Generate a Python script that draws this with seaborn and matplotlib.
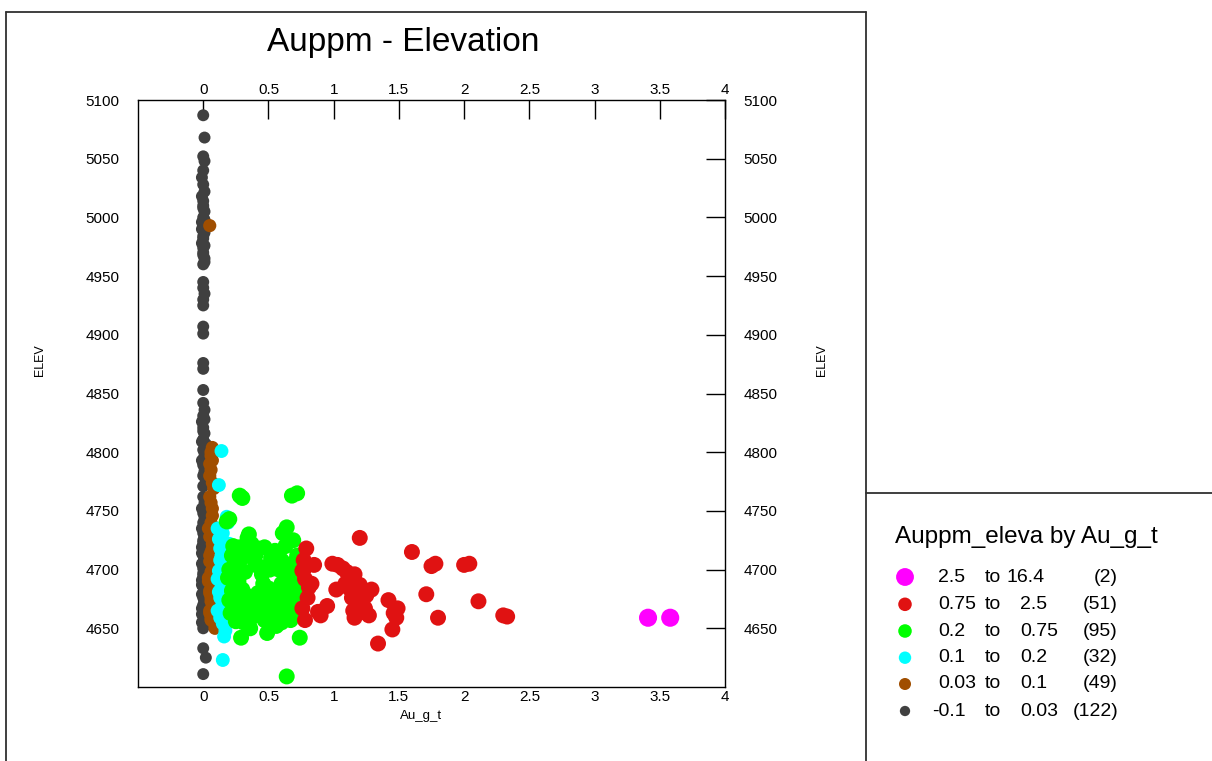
import matplotlib
matplotlib.use("Agg")
import matplotlib.pyplot as plt
import seaborn as sns
import pandas as pd
from matplotlib.lines import Line2D

# ---- Au_g_t vs elevation samples, grouped by grade class ----
grey_pts = [
    (0.00, 5087), (0.01, 5068), (0.00, 5052), (0.01, 5048), (0.00, 5040), (-0.01, 5034),
    (0.00, 5028), (-0.01, 5018), (0.00, 5014), (0.00, 5010), (0.01, 5005), (0.00, 5000),
    (-0.01, 4996), (0.00, 4992), (0.01, 4987), (0.00, 4982), (-0.01, 4978), (0.00, 4974),
    (0.00, 4970), (0.01, 4965), (0.00, 4960), (0.00, 4945), (0.00, 4940), (0.01, 4935),
    (0.00, 4930), (0.00, 4925), (0.00, 4907), (0.00, 4901), (0.00, 4876), (0.00, 4871),
    (0.00, 4853),
    (0.00, 4842), (0.01, 4836), (0.00, 4831), (-0.01, 4826), (0.00, 4821), (0.01, 4816),
    (0.00, 4811), (0.02, 4807), (0.00, 4802), (0.01, 4797), (-0.01, 4793), (0.00, 4789),
    (0.01, 4784), (0.00, 4780), (0.02, 4775), (0.00, 4771),
    (0.00, 4762), (0.01, 4757), (-0.01, 4752), (0.00, 4748), (0.01, 4744), (0.00, 4740),
    (-0.01, 4735), (0.00, 4731), (0.01, 4727), (0.00, 4723), (-0.01, 4719), (0.02, 4716),
    (0.00, 4712), (0.01, 4708), (-0.01, 4705), (0.00, 4701), (0.02, 4698), (0.00, 4695),
    (-0.01, 4691), (0.01, 4688), (0.00, 4685), (0.02, 4682), (-0.01, 4679), (0.00, 4676),
    (0.01, 4673), (0.00, 4670), (-0.01, 4667), (0.02, 4664), (0.00, 4661), (0.01, 4658),
    (-0.01, 4655), (0.00, 4650), (0.00, 4633), (0.02, 4625), (0.00, 4611),
    (0.01, 5022), (0.00, 5008), (0.01, 4998), (-0.01, 4990), (0.00, 4984), (0.01, 4976),
    (0.00, 4968), (0.01, 4962),
    (0.01, 4828), (0.00, 4818), (-0.01, 4809), (0.01, 4800), (0.00, 4791), (0.01, 4782),
    (0.02, 4733), (0.01, 4729), (0.00, 4725), (-0.01, 4714), (0.01, 4710), (0.02, 4703),
    (0.00, 4697), (0.01, 4693), (-0.01, 4687), (0.02, 4684), (0.00, 4680), (0.01, 4677),
    (0.02, 4671), (0.00, 4668), (0.01, 4665), (-0.01, 4662), (0.02, 4659), (0.00, 4656),
    (0.01, 4653), (0.00, 4720), (0.01, 4718), (0.00, 4706), (0.01, 4700), (0.00, 4689),
    (0.01, 4674), (0.00, 4663),
]

brown_pts = [
    (0.05, 4993), (0.07, 4804), (0.06, 4797), (0.05, 4790), (0.06, 4785), (0.07, 4774),
    (0.08, 4769), (0.05, 4762), (0.07, 4746), (0.06, 4740), (0.08, 4733), (0.05, 4728),
    (0.07, 4722), (0.06, 4715), (0.08, 4710), (0.05, 4707), (0.07, 4700), (0.06, 4696),
    (0.04, 4693), (0.08, 4688), (0.07, 4684), (0.05, 4680), (0.06, 4676), (0.08, 4671),
    (0.07, 4667), (0.05, 4663), (0.06, 4659), (0.08, 4655), (0.09, 4650),
    (0.06, 4800), (0.07, 4793), (0.05, 4780), (0.06, 4757), (0.07, 4752), (0.04, 4735),
    (0.06, 4730), (0.07, 4718), (0.05, 4712), (0.08, 4703), (0.06, 4698), (0.04, 4690),
    (0.07, 4686), (0.05, 4682), (0.09, 4678), (0.06, 4673), (0.07, 4669), (0.05, 4665),
    (0.08, 4661), (0.06, 4657),
]

cyan_pts = [
    (0.14, 4801), (0.12, 4772), (0.18, 4745), (0.19, 4740), (0.15, 4731), (0.20, 4722),
    (0.17, 4716), (0.13, 4708), (0.16, 4703), (0.12, 4699), (0.15, 4694), (0.17, 4690),
    (0.14, 4685), (0.16, 4680), (0.13, 4676), (0.15, 4672), (0.14, 4668), (0.16, 4663),
    (0.13, 4659), (0.15, 4654), (0.17, 4648), (0.16, 4643), (0.15, 4623), (0.11, 4735),
    (0.12, 4726), (0.18, 4712), (0.11, 4692), (0.12, 4681), (0.18, 4670), (0.11, 4665),
    (0.14, 4712), (0.13, 4718),
]

green_pts = [
    (0.28, 4763), (0.30, 4761), (0.68, 4763), (0.72, 4765), (0.20, 4743), (0.18, 4741),
    (0.35, 4730), (0.34, 4727), (0.61, 4731), (0.64, 4736), (0.29, 4642), (0.49, 4646),
    (0.74, 4642), (0.64, 4609), (0.47, 4719), (0.28, 4719), (0.33, 4715),
    (0.22, 4712), (0.30, 4710), (0.40, 4712), (0.52, 4710), (0.60, 4708), (0.68, 4705),
    (0.72, 4712), (0.25, 4705),
    (0.20, 4700), (0.24, 4702), (0.32, 4698), (0.40, 4704), (0.45, 4702), (0.51, 4700),
    (0.58, 4700), (0.64, 4702), (0.70, 4698), (0.74, 4703),
    (0.19, 4693), (0.27, 4690), (0.30, 4683), (0.45, 4696), (0.46, 4688), (0.50, 4684),
    (0.60, 4688), (0.66, 4685), (0.71, 4690), (0.75, 4686),
    (0.22, 4682), (0.28, 4680), (0.33, 4678), (0.42, 4680), (0.50, 4680), (0.56, 4680),
    (0.62, 4682), (0.68, 4678), (0.73, 4680),
    (0.20, 4674), (0.26, 4671), (0.33, 4673), (0.38, 4668), (0.44, 4670), (0.50, 4673),
    (0.55, 4668), (0.60, 4672), (0.66, 4670), (0.71, 4673),
    (0.21, 4663), (0.27, 4660), (0.33, 4664), (0.40, 4662), (0.44, 4661), (0.52, 4664),
    (0.58, 4662), (0.63, 4659), (0.68, 4663), (0.73, 4661),
    (0.25, 4656), (0.31, 4655), (0.36, 4658), (0.47, 4657), (0.54, 4656), (0.60, 4655),
    (0.67, 4657),
    (0.23, 4720), (0.37, 4722), (0.42, 4718), (0.55, 4716), (0.63, 4720), (0.69, 4725),
    (0.26, 4695), (0.48, 4677), (0.65, 4693), (0.30, 4676), (0.47, 4672), (0.62, 4666),
    (0.36, 4650), (0.56, 4652),
]

red_pts = [
    (1.20, 4727), (0.79, 4718), (1.60, 4715), (1.75, 4703), (1.78, 4705), (2.00, 4704),
    (2.04, 4705), (0.85, 4704), (0.99, 4705), (1.07, 4701), (1.16, 4696), (0.76, 4699),
    (0.81, 4685), (1.02, 4683), (1.12, 4684), (1.20, 4687), (1.29, 4683), (1.14, 4676),
    (1.22, 4672), (1.42, 4674), (1.49, 4667), (1.48, 4659), (1.45, 4649), (1.34, 4637),
    (1.71, 4679), (1.80, 4659), (2.11, 4673), (2.30, 4661), (2.33, 4660), (0.76, 4667),
    (0.78, 4657), (0.90, 4661), (0.95, 4669), (1.16, 4659), (1.27, 4661), (1.21, 4670),
    (0.775, 4701), (0.83, 4688),
    (1.03, 4704), (1.10, 4698), (1.18, 4680), (1.25, 4678), (1.15, 4665), (1.19, 4663),
    (0.78, 4692), (0.80, 4676), (0.88, 4664), (1.46, 4663), (1.24, 4667), (1.09, 4688),
    (0.77, 4708),
]

magenta_pts = [(3.41, 4659), (3.58, 4659)]

# grade classes: (points, colour, marker area, legend label columns)
grade_classes = [
    (grey_pts, "#404040", 74, ("-0.1", "0.03", "(122)")),
    (brown_pts, "#A04E00", 90, ("0.03", "0.1", "(49)")),
    (cyan_pts, "#00FFFF", 100, ("0.1", "0.2", "(32)")),
    (green_pts, "#00FF00", 132, ("0.2", "0.75", "(95)")),
    (red_pts, "#E01212", 132, ("0.75", "2.5", "(51)")),
    (magenta_pts, "#FF00FF", 170, ("2.5", "16.4", "(2)")),
]

x_ticks = [0, 0.5, 1, 1.5, 2, 2.5, 3, 3.5, 4]
x_tick_labels = ["0", "0.5", "1", "1.5", "2", "2.5", "3", "3.5", "4"]
y_ticks = [4650, 4700, 4750, 4800, 4850, 4900, 4950, 5000, 5050, 5100]

sns.set_theme(style="white")
plt.rcParams["font.family"] = ["Liberation Sans", "DejaVu Sans"]

W, H = 1212, 761
fig = plt.figure(figsize=(W / 100, H / 100), dpi=100)


def fx(px):
    return px / W


def fy(py):
    return 1 - py / H


ax = fig.add_axes([fx(138), fy(687), (725 - 138) / W, (687 - 100) / H])
for pts, col, area, _ in grade_classes:
    df = pd.DataFrame(pts, columns=["Au_g_t", "ELEV"])
    sns.scatterplot(data=df, x="Au_g_t", y="ELEV", color=col, s=area,
                    edgecolor="none", linewidth=0, alpha=1, ax=ax, zorder=3)

ax.set_xlim(-0.5, 4)
ax.set_ylim(4600, 5100)
ax.set_xticks(x_ticks)
ax.set_xticklabels(x_tick_labels)
ax.set_yticks(y_ticks)
ax.set_yticklabels([str(v) for v in y_ticks])
ax.set_xlabel("")
ax.set_ylabel("")
ax.tick_params(direction="in", length=13.7, width=1, color="black",
               top=True, right=True, labeltop=True, labelright=True,
               labelsize=11, labelcolor="black")
ax.tick_params(axis="y", pad=13.5)
ax.tick_params(axis="x", pad=2.5)
for sp in ax.spines.values():
    sp.set_visible(True)
    sp.set_color("black")
    sp.set_linewidth(1)

# titles and axis names
fig.text(fx(403), fy(42), "Auppm - Elevation", ha="center", va="center",
         fontsize=24, color="black")
fig.text(fx(40), fy(360), "ELEV", rotation=90, ha="center", va="center",
         fontsize=9, color="black")
fig.text(fx(822), fy(360), "ELEV", rotation=90, ha="center", va="center",
         fontsize=9, color="black")
fig.text(fx(421), fy(716), "Au_g_t", ha="center", va="center",
         fontsize=9.5, color="black")

# page frame and legend box
frame_kw = dict(transform=fig.transFigure, color="#303030", linewidth=1.3)
fig.add_artist(Line2D([fx(6), fx(6)], [fy(12), 0], **frame_kw))
fig.add_artist(Line2D([fx(6), fx(866)], [fy(12), fy(12)], **frame_kw))
fig.add_artist(Line2D([fx(866), fx(866)], [fy(12), 0], **frame_kw))
fig.add_artist(Line2D([fx(866), 1], [fy(493), fy(493)], **frame_kw))

# legend panel
lax = fig.add_axes([fx(867), 0, (W - 867) / W, fy(493)])
lax.set_xlim(867, W)
lax.set_ylim(H, 493)
lax.axis("off")
lax.text(895, 537, "Auppm_eleva by Au_g_t", ha="left", va="center",
         fontsize=17.5, color="black")
row_y = [711, 684, 657.7, 631, 604.3, 577]
legend_areas = [55, 75, 80, 95, 95, 165]
for (pts, col, area, (lo, hi, cnt)), ry, la in zip(grade_classes, row_y, legend_areas):
    lax.scatter([905], [ry], s=la, color=col, edgecolor="none", zorder=3)
    lo_x = 932 if lo.startswith("-") else 938
    lax.text(lo_x, ry, lo, ha="left", va="center", fontsize=14, color="black")
    lax.text(985, ry, "to", ha="left", va="center", fontsize=14, color="black")
    hi_x = 1006 if hi == "16.4" else 1020
    lax.text(hi_x, ry, hi, ha="left", va="center", fontsize=14, color="black")
    lax.text(1118, ry, cnt, ha="right", va="center", fontsize=14, color="black")

fig.savefig("out.png", dpi=100)
